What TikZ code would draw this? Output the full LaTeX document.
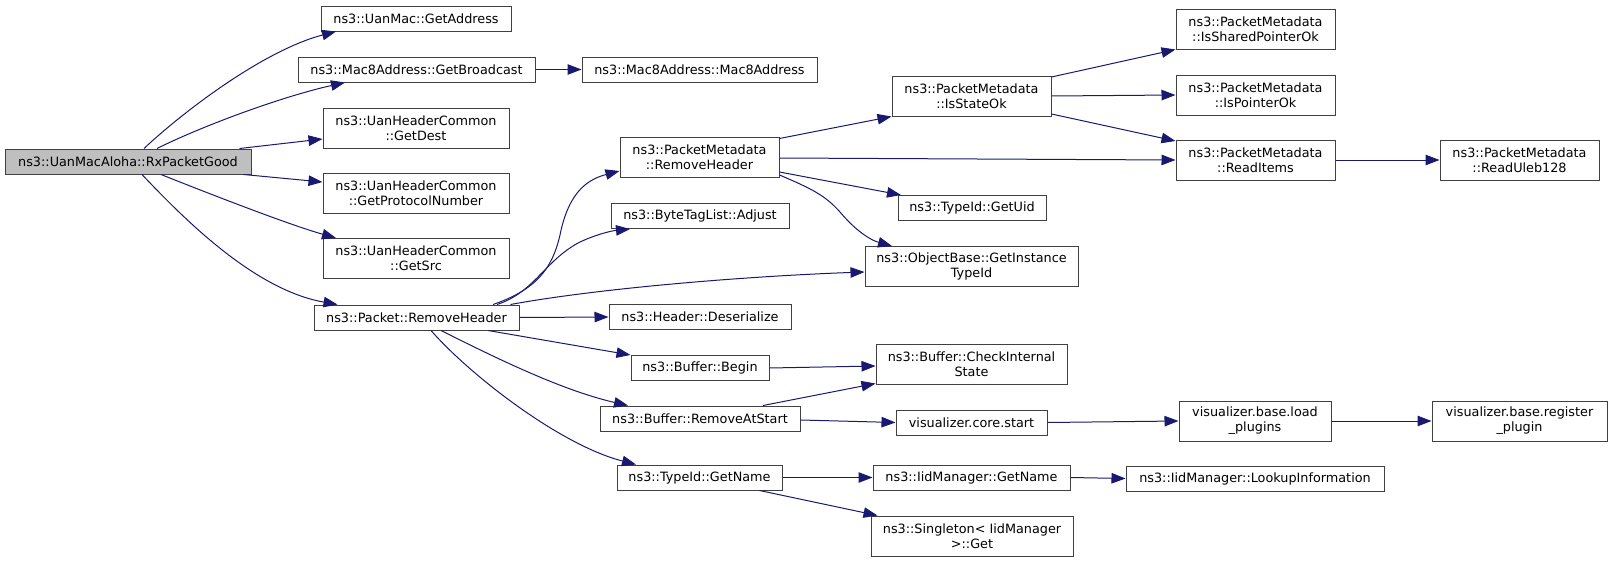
\documentclass[tikz,border=0pt]{standalone}
\usepackage{fontspec}
\setmainfont{DejaVu Sans}
\usetikzlibrary{arrows.meta}
\definecolor{edgecol}{HTML}{191970}
\definecolor{boxline}{HTML}{404040}
\definecolor{rootfill}{HTML}{BFBFBF}
\begin{document}
\begin{tikzpicture}[x=1pt,y=-1pt,
  box/.style={draw=boxline, line width=1pt, fill=white, inner sep=0pt,
    minimum height=25pt, align=center, font=\fontsize{12.8}{15}\selectfont},
  tall/.style={minimum height=40pt},
  edge/.style={draw=edgecol, line width=1pt, -{Triangle[length=14pt,width=10.5pt]}}]
\useasboundingbox (0,0) rectangle (1612,562);
% column 1
\node[box, fill=rootfill, minimum width=246pt] (root) at (128,161.5) {ns3::UanMacAloha::RxPacketGood};
% column 2
\node[box, minimum width=190pt] (ga) at (416,18.5) {ns3::UanMac::GetAddress};
\node[box, minimum width=237pt] (gb) at (416.5,69.5) {ns3::Mac8Address::GetBroadcast};
\node[box, tall, minimum width=186pt] (gd) at (416,128) {ns3::UanHeaderCommon\\::GetDest};
\node[box, tall, minimum width=186pt] (gpn) at (416,193) {ns3::UanHeaderCommon\\::GetProtocolNumber};
\node[box, tall, minimum width=186pt] (gs) at (416,258.5) {ns3::UanHeaderCommon\\::GetSrc};
\node[box, minimum width=205pt] (prh) at (416.5,317.5) {ns3::Packet::RemoveHeader};
% column 3
\node[box, minimum width=235pt] (m8) at (699.5,69.5) {ns3::Mac8Address::Mac8Address};
\node[box, tall, minimum width=159pt] (pmrh) at (699.5,157) {ns3::PacketMetadata\\::RemoveHeader};
\node[box, minimum width=178pt] (bta) at (700,216) {ns3::ByteTagList::Adjust};
\node[box, minimum width=182pt] (hd) at (700,317) {ns3::Header::Deserialize};
\node[box, minimum width=138pt] (bb) at (700,368) {ns3::Buffer::Begin};
\node[box, minimum width=200pt] (bras) at (700,418.5) {ns3::Buffer::RemoveAtStart};
\node[box, minimum width=165pt] (tgn) at (699.5,477.5) {ns3::TypeId::GetName};
% column 4
\node[box, tall, minimum width=159pt] (iso) at (971.5,96) {ns3::PacketMetadata\\::IsStateOk};
\node[box, minimum width=148pt] (uid) at (972,208) {ns3::TypeId::GetUid};
\node[box, tall, minimum width=213pt] (gitid) at (971.5,266.5) {ns3::ObjectBase::GetInstance\\TypeId};
\node[box, tall, minimum width=191pt] (cis) at (971.5,364) {ns3::Buffer::CheckInternal\\State};
\node[box, minimum width=151pt] (vcs) at (971.5,422.5) {visualizer.core.start};
\node[box, minimum width=197pt] (ign) at (971.5,477.5) {ns3::IidManager::GetName};
\node[box, tall, minimum width=202pt] (sgl) at (972,536) {ns3::Singleton< IidManager\\>::Get};
% column 5
\node[box, tall, minimum width=159pt] (ispo) at (1255.5,29) {ns3::PacketMetadata\\::IsSharedPointerOk};
\node[box, tall, minimum width=159pt] (ipo) at (1255.5,95) {ns3::PacketMetadata\\::IsPointerOk};
\node[box, tall, minimum width=159pt] (ri) at (1255.5,160) {ns3::PacketMetadata\\::ReadItems};
\node[box, tall, minimum width=152pt] (lp) at (1255,421) {visualizer.base.load\\\_plugins};
\node[box, minimum width=258pt] (li) at (1255,478.5) {ns3::IidManager::LookupInformation};
% column 6
\node[box, tall, minimum width=159pt] (ru) at (1519.5,160) {ns3::PacketMetadata\\::ReadUleb128};
\node[box, tall, minimum width=175pt] (rp) at (1519.5,421) {visualizer.base.register\\\_plugin};
% edges
\draw[edge] ([xshift=16pt]root.north) .. controls (185,110) and (265,50) .. ([xshift=-80pt]ga.south);
\draw[edge] ([xshift=29pt]root.north) .. controls (200,127) and (280,97) .. ([xshift=-71.5pt]gb.south);
\draw[edge] ([xshift=-12pt]root.north east) -- ([yshift=-11pt]gd.west);
\draw[edge] ([xshift=-8pt]root.south east) -- ([yshift=11pt]gpn.west);
\draw[edge] ([xshift=33pt]root.south) .. controls (215,196) and (290,225) .. ([xshift=-80pt]gs.north);
\draw[edge] ([xshift=14pt]root.south) .. controls (185,220) and (255,290) .. ([xshift=-79pt]prh.north);
\draw[edge] (gb.east) -- (m8.west);
\draw[edge] ([xshift=76.5pt]prh.north) .. controls (535,290) and (552,270) .. (560,235) .. controls (568,195) and (585,180) .. ([yshift=-14pt]pmrh.west);
\draw[edge] ([xshift=80.5pt]prh.north) .. controls (535,292) and (545,260) .. (580,242) .. controls (595,235) and (610,231) .. ([xshift=-70pt]bta.south);
\draw[edge] ([xshift=-9pt]prh.north east) .. controls (600,288) and (750,276) .. ([yshift=-5.5pt]gitid.west);
\draw[edge] (prh.east) -- (hd.west);
\draw[edge] ([xshift=71.5pt]prh.south) -- (bb.north west);
\draw[edge] ([xshift=24.5pt]prh.south) .. controls (490,355) and (560,390) .. ([xshift=-72pt]bras.north);
\draw[edge] ([xshift=14.5pt]prh.south) .. controls (470,375) and (560,445) .. ([xshift=-63.5pt]tgn.north);
\draw[edge] ([yshift=-2pt]pmrh.north east) -- (iso.south west);
\draw[edge] ([yshift=-1pt]pmrh.east) -- (ri.west);
\draw[edge] ([yshift=-15pt]pmrh.east) -- ([xshift=-71pt]uid.north);
\draw[edge] ([yshift=-18pt]pmrh.east) .. controls (810,188) and (825,195) .. (840,212) .. controls (855,230) and (870,240) .. ([xshift=-79.5pt]gitid.north);
\draw[edge] ([yshift=19pt]iso.east) -- (ispo.south west);
\draw[edge] (iso.east) -- (ipo.west);
\draw[edge] ([yshift=-18pt]iso.east) -- ([yshift=19pt]ri.west);
\draw[edge] (ri.east) -- (ru.west);
\draw[edge] (bb.east) -- ([yshift=-2pt]cis.west);
\draw[edge] ([xshift=63pt]bras.north) -- ([yshift=1pt]cis.south west);
\draw[edge] ([yshift=-1.5pt]bras.east) -- (vcs.west);
\draw[edge] (vcs.east) -- (lp.west);
\draw[edge] (lp.east) -- (rp.west);
\draw[edge] (tgn.east) -- (ign.west);
\draw[edge] ([xshift=60pt]tgn.south) -- ([xshift=-94.5pt]sgl.north);
\draw[edge] (ign.east) -- (li.west);
\end{tikzpicture}
\end{document}
